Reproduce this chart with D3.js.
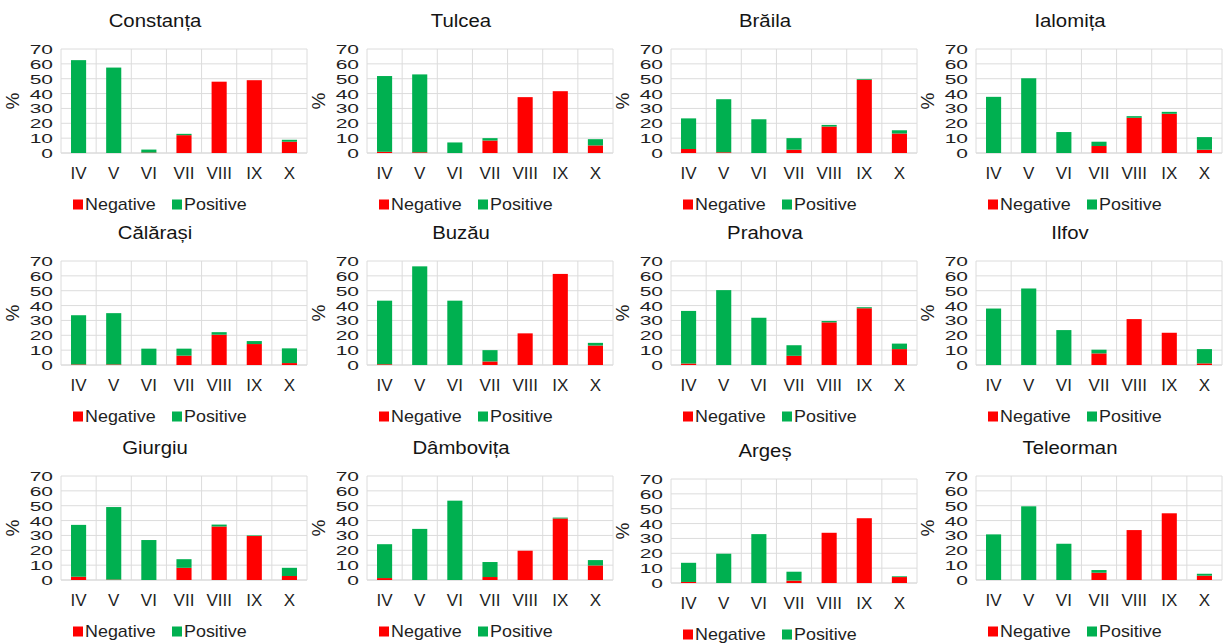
<!DOCTYPE html>
<html><head><meta charset="utf-8">
<script src="https://cdn.jsdelivr.net/npm/d3@7"></script>
<style>body{margin:0;background:#fff}svg{display:block}text{font-family:"Liberation Sans",Arial,sans-serif}</style>
</head><body>
<svg id="c" width="1225" height="643"></svg>
<script>
const months = ["IV","V","VI","VII","VIII","IX","X"];
const counties = ["Constanța","Tulcea","Brăila","Ialomița","Călărași","Buzău","Prahova","Ilfov","Giurgiu","Dâmbovița","Argeș","Teleorman"];
const yTicks = [0,10,20,30,40,50,60,70];
const seriesNames = ["Negative","Positive"];
const negative = [
  [0,0,0.3,12,48,49,7.6],
  [0.8,0.5,0,8.4,37.6,41.6,5.1],
  [2.7,0.5,0,2.2,17.8,49.3,13.1],
  [0,0,0,4.7,23.7,26.4,2.2],
  [0.4,0.4,0,6.3,20.4,14.1,1.3],
  [0.5,0,0,2.4,21.3,61.3,13.1],
  [1,0,0,6.2,28.7,38.2,10.7],
  [0,0,0,7.8,30.9,21.7,1.1],
  [2.2,0.3,0,8.2,36,29.6,2.7],
  [1.3,0,0,2,19.7,41.4,9.8],
  [0.7,0,0,1.6,33.8,43.6,4],
  [0,0,0,4.9,33.6,44.9,2.9]
];
const positive = [
  [62.5,57.5,2,0.9,0,0,1.3],
  [51,52.4,7.1,1.6,0,0,4.2],
  [20.6,35.7,22.7,7.8,1.1,0.5,2.2],
  [37.8,50.3,14.1,2.9,1.1,1.3,8.5],
  [33.1,34.5,11,4.7,1.7,2,9.9],
  [42.8,66.4,43.3,7.6,0,0,1.8],
  [35.4,50.4,31.8,7.1,0.9,0.7,3.7],
  [38,51.5,23.5,2.5,0,0,9.6],
  [34.9,48.8,26.9,5.8,1.3,0.4,5.5],
  [22.8,34.4,53.4,10.1,0,0.6,3.6],
  [12.9,19.7,32.9,6,0,0,0.5],
  [30.7,49.6,24.4,1.8,0,0,1.3]
];
const colors = ["#ff0000","#00b050"];

const svg = d3.select("#c");
const colX = [0,306,610,915];
const plotTop = [49,261,476];
const plotW = 246, plotH = 104;
const ink = "#1f1f1f";

counties.forEach((name,i)=>{
  const col = i%4, row = Math.floor(i/4);
  const ox = colX[col] + 61, oy = plotTop[row] + (i===10?3:0);
  const g = svg.append("g").attr("transform",`translate(${ox},${oy})`);
  const x = d3.scaleBand().domain(months).range([0,plotW]).paddingInner(0.57).paddingOuter(0.285);
  const xb = d3.scaleBand().domain(months).range([0,plotW]);
  const y = d3.scaleLinear().domain([0,70]).range([plotH,0]);

  // grid
  g.append("g").selectAll("line").data(yTicks).join("line")
    .attr("x1",0).attr("x2",plotW).attr("y1",d=>y(d)).attr("y2",d=>y(d))
    .attr("stroke",d=>d===0?"#c8c8c8":"#dcdcdc").attr("stroke-width",1);
  g.append("g").selectAll("line").data(months.concat(["end"])).join("line")
    .attr("x1",d=>d==="end"?plotW:xb(d)).attr("x2",d=>d==="end"?plotW:xb(d))
    .attr("y1",0).attr("y2",plotH).attr("stroke","#dcdcdc");

  // stacked bars
  const rows = months.map((m,k)=>({m, Negative:negative[i][k], Positive:positive[i][k]}));
  const stack = d3.stack().keys(seriesNames)(rows);
  g.append("g").selectAll("g").data(stack).join("g").attr("fill",(d,k)=>colors[k])
    .selectAll("rect").data(d=>d).join("rect")
    .attr("x",d=>x(d.data.m)).attr("width",x.bandwidth())
    .attr("y",d=>y(d[1])).attr("height",d=>Math.max(0,y(d[0])-y(d[1])));

  // y axis
  const sx = 1.4, syy = 0.84;
  const ya = g.append("g").call(d3.axisLeft(y).tickValues(yTicks).tickSize(0).tickPadding(8));
  ya.select(".domain").remove();
  ya.selectAll("text").attr("font-size",15).attr("fill",ink)
    .attr("font-family","Liberation Sans, Arial, sans-serif")
    .attr("transform",`scale(${sx},${syy})`).attr("x", -8/sx).attr("dy","0.36em");

  // x axis
  const xa = g.append("g").attr("transform",`translate(0,${plotH})`)
    .call(d3.axisBottom(x).tickSize(0).tickPadding(14));
  xa.select(".domain").remove();
  xa.selectAll("text").attr("font-size",17).attr("fill",ink)
    .attr("font-family","Liberation Sans, Arial, sans-serif");

  // % label
  g.append("text").attr("transform",`translate(${-42},${plotH/2}) rotate(-90)`)
    .attr("text-anchor","middle").attr("font-size",19).attr("fill",ink).text("%");

  // title
  g.append("text").attr("transform",`translate(${155-61},${-22}) scale(1.1,1)`)
    .attr("text-anchor","middle").attr("font-size",18.5).attr("fill","#141414").text(name);

  // legend
  const lg = g.append("g").attr("transform",`translate(0,${plotH+57})`);
  const lx = [73-61, 172-61];
  seriesNames.forEach((s,k)=>{
    lg.append("rect").attr("x",lx[k]).attr("y",-10.5).attr("width",10).attr("height",10).attr("fill",colors[k]);
    lg.append("text").attr("transform",`translate(${lx[k]+12},0) scale(1.12,1)`)
      .attr("font-size",16).attr("fill",ink).text(s);
  });
});
</script>
</body></html>
